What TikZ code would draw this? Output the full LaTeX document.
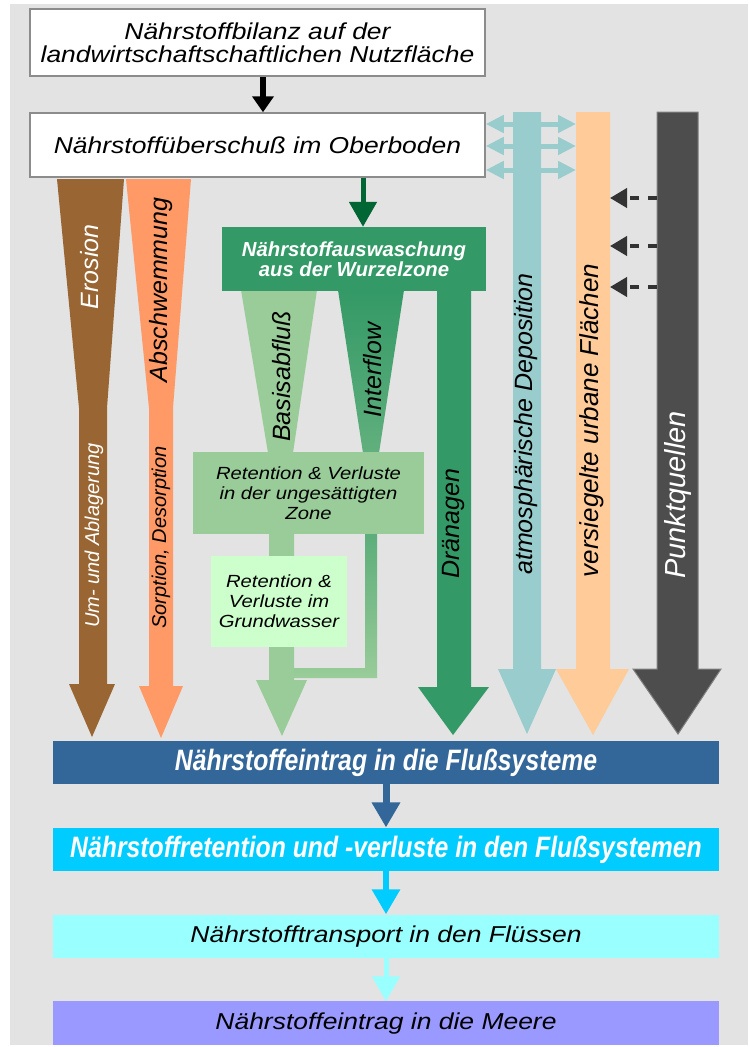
\documentclass[tikz,border=0pt]{standalone}
\usepackage{fontspec}
\setmainfont{Liberation Sans}
\newfontfamily\widefont[FakeStretch=1.15]{Liberation Sans}
\newfontfamily\narrowfont[FakeStretch=0.84]{Liberation Sans}
\usetikzlibrary{arrows.meta,positioning}
\definecolor{bggray}{HTML}{E3E3E3}
\definecolor{boxline}{HTML}{8C8C8C}
\definecolor{erosion}{HTML}{996633}
\definecolor{abschw}{HTML}{FF9966}
\definecolor{darkgreen}{HTML}{006633}
\definecolor{seagreen}{HTML}{339966}
\definecolor{palegreen}{HTML}{99CC99}
\definecolor{mintgreen}{HTML}{CCFFCC}
\definecolor{depo}{HTML}{99CCCC}
\definecolor{urban}{HTML}{FFCC99}
\definecolor{punkt}{HTML}{4D4D4D}
\definecolor{dashgray}{HTML}{333333}
\definecolor{flussblue}{HTML}{336699}
\definecolor{retcyan}{HTML}{00CCFF}
\definecolor{transcyan}{HTML}{99FFFF}
\definecolor{meerviolet}{HTML}{9999FF}

\begin{document}
\begin{tikzpicture}[x=1pt, y=-1pt,
    box/.style={draw=boxline, line width=1.5pt, fill=white, inner sep=0pt, align=center,
      font=\widefont\itshape\fontsize{23}{23}\selectfont},
    retbox/.style={inner sep=0pt, align=center, font=\widefont\itshape\fontsize{17.6}{20}\selectfont},
    band/.style={inner sep=0pt, minimum width=666pt, minimum height=43.5pt},
    bandbold/.style={band, text=white, font=\narrowfont\bfseries\itshape\fontsize{29.5}{30}\selectfont},
    bandplain/.style={band, font=\widefont\itshape\fontsize{23}{23}\selectfont},
    vlabel/.style={rotate=90, inner sep=0pt, font=\itshape\fontsize{25}{25}\selectfont},
    vsmall/.style={vlabel, font=\itshape\fontsize{20}{20}\selectfont},
    blockarrow/.style={-{Triangle[length=25pt,width=27pt]}},
    node distance=43pt]

  \useasboundingbox (0,0) rectangle (748,1047);
  \fill[bggray] (10,4) rectangle (748,1045);

  \node[box, minimum width=455pt, minimum height=67pt] (bilanz) at (257.5,42.5)
    {Nährstoffbilanz auf der\\landwirtschaftschaftlichen Nutzfläche};
  \node[box, minimum width=455pt, minimum height=64pt] (ueberschuss) at (257.5,145)
    {Nährstoffüberschuß im Oberboden};
  \draw[line width=6pt, -{Triangle[length=16pt,width=21pt]}]
    ([xshift=5.5pt]bilanz.south) -- ([xshift=5.5pt]ueberschuss.north);

  \coordinate (urban-w) at (576,112);
  \coordinate (urban-e) at (610,112);
  \coordinate (punkt-w) at (657,112);
  \coordinate (gn) at (363,0);

  % Erosion und Abschwemmung
  \fill[erosion] (57,179) -- (124,179) -- (107,408) -- (107,684) -- (115,684) -- (92,737)
    -- (69,684) -- (79,684) -- (79,408) -- cycle;
  \fill[abschw] (126,179) -- (191,179) -- (173,408) -- (173,686) -- (183,686) -- (161,738)
    -- (139,686) -- (149,686) -- (149,408) -- cycle;
  \node[vlabel, text=white] (erosion-l) at (90,267) {Erosion};
  \node[vlabel] (abschw-l) at (161.5,290) {Abschwemmung};
  \node[vsmall, text=white] (umlag-l) at (94,535.5) {Um- und Ablagerung};
  \node[vsmall] (sorption-l) at (161,537.5) {Sorption, Desorption};

  % Auswaschung
  \fill[seagreen] (437,291) -- (471,291) -- (471,687) -- (489,687) -- (453,735) -- (418,687)
    -- (437,687) -- cycle;
  \fill[palegreen] (241,290) -- (317,290) -- (293,453) -- (268,453) -- cycle;
  \shade[top color=seagreen, bottom color=seagreen!55!palegreen] (338,290) -- (404,290)
    -- (379,453) -- (363,453) -- cycle;
  \fill[palegreen] (269,533) -- (294,533) -- (294,680) -- (307,680) -- (282,736) -- (256,680)
    -- (269,680) -- cycle;
  \shade[top color=seagreen!60!palegreen, bottom color=palegreen] (365,533) -- (377,533)
    -- (377,678) -- (294,678) -- (294,668) -- (365,668) -- cycle;
  \node[fill=seagreen, inner sep=0pt, minimum width=264pt, minimum height=64pt, align=center,
    text=white, font=\bfseries\itshape\fontsize{20.3}{20.5}\selectfont] (auswaschung) at (354,259)
    {Nährstoffauswaschung\\aus der Wurzelzone};
  \draw[darkgreen, line width=5pt, blockarrow] (ueberschuss.south -| gn) -- (auswaschung.north -| gn);
  \node[retbox, fill=palegreen, minimum width=231pt, minimum height=82pt] (ungesaettigt) at (308.5,493)
    {Retention \& Verluste\\in der ungesättigten\\Zone};
  \node[retbox, fill=mintgreen, minimum width=136pt, minimum height=91pt] (grundwasser) at (279,601.5)
    {Retention \&\\Verluste im\\Grundwasser};
  \node[vlabel] (basis-l) at (282,376.5) {Basisabfluß};
  \node[vlabel] (inter-l) at (372.5,370) {Interflow};
  \node[vlabel] (drain-l) at (453,523.5) {Dränagen};

  % Deposition, urbane Flaechen, Punktquellen
  \foreach \y in {124,146,170}
    \draw[depo, line width=5pt, {Triangle[length=18pt,width=17pt]}-{Triangle[length=18pt,width=17pt]}]
      (ueberschuss.east |- 0,\y) -- (urban-w |- 0,\y);
  \fill[depo] (513,112) -- (541,112) -- (541,669) -- (556,669) -- (527,734) -- (498,669)
    -- (513,669) -- cycle;
  \fill[urban] (urban-w) -- (urban-e) -- (610,669) -- (629,669) -- (593,735) -- (556,669)
    -- (576,669) -- cycle;
  \filldraw[fill=punkt, draw=gray, line width=1pt] (punkt-w) -- (698,112) -- (698,669) -- (721,669)
    -- (678,734) -- (633,669) -- (657,669) -- cycle;
  \foreach \y in {198,246,287}
    \draw[dashgray, line width=4pt, dash pattern=on 9pt off 9pt, -{Triangle[length=17pt,width=19pt]}]
      (punkt-w |- 0,\y) -- (urban-e |- 0,\y);
  \node[vlabel] (depo-l) at (526,424) {atmosphärische Deposition};
  \node[vlabel, font=\itshape\fontsize{26}{26}\selectfont] (urban-l) at (592,420.5) {versiegelte urbane Flächen};
  \node[vlabel, text=white, font=\itshape\fontsize{29}{29}\selectfont] (punkt-l) at (678,495) {Punktquellen};

  % Flusssysteme
  \node[bandbold, fill=flussblue] (eintrag) at (386,762.5) {Nährstoffeintrag in die Flußsysteme};
  \node[bandbold, fill=retcyan, below=of eintrag] (retention) {Nährstoffretention und -verluste in den Flußsystemen};
  \node[bandplain, fill=transcyan, below=of retention] (transport) {Nährstofftransport in den Flüssen};
  \node[bandplain, fill=meerviolet, below=of transport] (meere) {Nährstoffeintrag in die Meere};
  \draw[flussblue, line width=7pt, blockarrow] (eintrag) -- (retention);
  \draw[retcyan, line width=6pt, blockarrow] (retention) -- (transport);
  \draw[transcyan, line width=5pt, blockarrow] (transport) -- (meere);
\end{tikzpicture}
\end{document}
